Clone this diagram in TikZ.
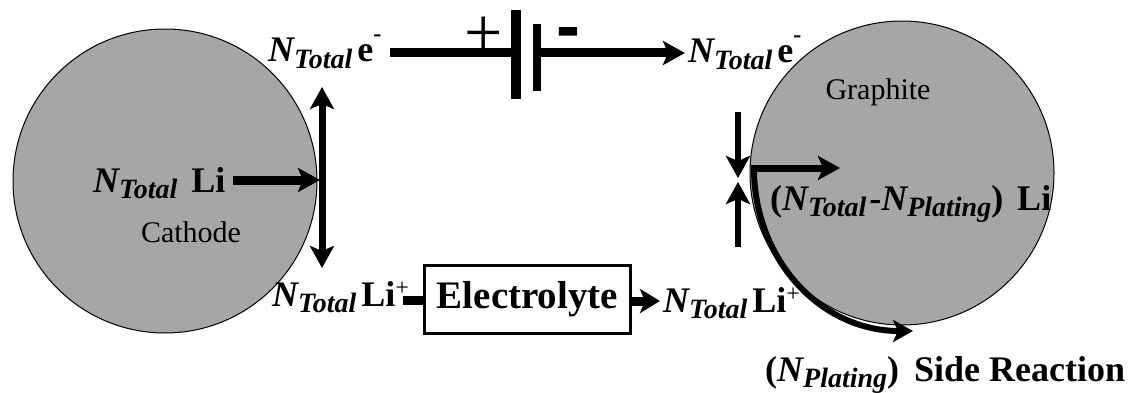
\documentclass[tikz,border=0pt]{standalone}
\usepackage{fontspec}
\setmainfont{Liberation Serif}
\newfontfamily\signfont{Liberation Sans}
\usetikzlibrary{arrows.meta}
\definecolor{electrodegray}{RGB}{166,166,166}
\newcommand{\NSub}[2]{{\bfseries\itshape #1\raisebox{-0.18em}{\fontsize{28}{28}\selectfont #2}}}
\newcommand{\supminus}{\raisebox{0.58em}{\fontsize{24}{24}\selectfont\bfseries -}}
\newcommand{\supplus}{\raisebox{0.3em}{\fontsize{24}{24}\selectfont +}}
\begin{document}
\begin{tikzpicture}[x=1pt,y=-1pt,
  electrode/.style={circle,draw=black,line width=1pt,fill=electrodegray,minimum size=304pt,inner sep=0pt},
  lbl/.style={inner sep=0pt,anchor=base west,font=\fontsize{36}{40}\selectfont},
  reglbl/.style={inner sep=0pt,font=\fontsize{30}{34}\selectfont},
  wire/.style={line width=9pt},
  plate/.style={line width=10pt},
  arr/.style={line width=7pt,-{Stealth[length=22pt,width=24pt,inset=5pt]}},
  darr/.style={line width=7pt,{Stealth[length=22pt,width=24pt,inset=5pt]}-{Stealth[length=22pt,width=24pt,inset=5pt]}},
  boxstyle/.style={draw=black,line width=3.5pt,minimum width=206pt,minimum height=68pt,inner sep=0pt,font=\fontsize{39}{42}\selectfont\bfseries}
]
\useasboundingbox (0,0) rectangle (1135,393);

% electrodes
\node[electrode] (cathode) at (165,181) {};
\node[electrode] (graphite) at (902,173) {};
\node[reglbl] (cathodelbl) at (191,232) {Cathode};
\node[reglbl] (graphitelbl) at (878,92) {Graphite};

% cathode side
\node[lbl] (liin) at (93,192) {\NSub{N}{Total}\hspace{14pt}\textbf{Li}};
\coordinate (listart) at (233,180);
\coordinate (cjx) at (320,180);
\coordinate (ctop) at (322,87);
\coordinate (cbot) at (322,268);
\draw[arr,line width=9pt] (listart) -- (cjx);
\draw[darr] (ctop) -- (cbot);

% top wire with battery
\node[lbl] (eleft) at (268,62) {\NSub{N}{Total}\hspace{5pt}\textbf{e}\supminus};
\coordinate (wl) at (390,53);
\coordinate (wlp) at (516,53);
\coordinate (plA1) at (516,10);
\coordinate (plA2) at (516,99);
\coordinate (plB1) at (537,24);
\coordinate (plB2) at (537,91);
\coordinate (wrp) at (537,53);
\coordinate (wr) at (685,53);
\draw[wire] (wl) -- (wlp);
\draw[plate] (plA1) -- (plA2);
\draw[line width=8pt] (plB1) -- (plB2);
\draw[wire,-{Stealth[length=22pt,width=24pt,inset=5pt]}] (wrp) -- (wr);
\node[inner sep=0pt,font=\fontsize{68}{68}\selectfont] (plus) at (484,36) {+};
\node[inner sep=0pt,anchor=base,font=\signfont\bfseries\fontsize{72}{72}\selectfont] (minus) at (568,51) {-};
\node[lbl] (eright) at (688,63) {\NSub{N}{Total}\hspace{5pt}\textbf{e}\supminus};

% bottom electrolyte path
\node[lbl] (lileft) at (272,306) {\NSub{N}{Total}\hspace{5pt}\textbf{Li}\supplus};
\node[boxstyle] (electrolyte) at (527.5,299.5) {Electrolyte};
\coordinate (stubL) at (403,300);
\draw[wire] (stubL) -- (electrolyte.west |- stubL);
\coordinate (elout) at (660,301);
\draw[wire,-{Stealth[length=20pt,width=24pt,inset=5pt]}] (electrolyte.east |- elout) -- (elout);
\node[lbl] (liright) at (663,312) {\NSub{N}{Total}\hspace{5pt}\textbf{Li}\supplus};

% graphite side
\coordinate (gd1) at (738,112);
\coordinate (gd2) at (738,178);
\coordinate (gu1) at (738,247);
\coordinate (gu2) at (738,182);
\draw[arr,line width=6.5pt] (gd1) -- (gd2);
\draw[arr,line width=6.5pt] (gu1) -- (gu2);
\coordinate (gin1) at (751,168);
\coordinate (gin2) at (840,168);
\draw[arr] (gin1) -- (gin2);
\coordinate (sr1) at (754,172);
\coordinate (sr2) at (913,331);
\draw[line width=6pt,-{Stealth[length=20pt,width=22pt,inset=5pt]}] (sr1) .. controls (756,262) and (822,331) .. (sr2);
\node[lbl] (inter) at (770,210) {\textbf{(}\NSub{N}{Total}\hspace{3pt}\textbf{-}\NSub{N}{Plating}\textbf{)}\hspace{14pt}\textbf{Li}};
\node[lbl] (side) at (765,381) {\textbf{(}\NSub{N}{Plating}\textbf{)}\hspace{15pt}\textbf{Side Reaction}};
\end{tikzpicture}
\end{document}
